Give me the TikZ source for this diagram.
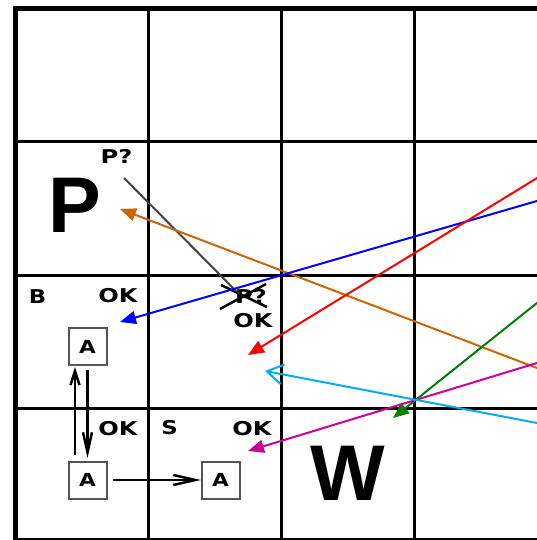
\documentclass[tikz,border=0pt]{standalone}
\usepackage{fontspec}
\usetikzlibrary{arrows.meta}
\newfontfamily\dvs{DejaVu Sans}
\newfontfamily\lib{Liberation Sans}
\definecolor{arrorange}{RGB}{204,102,0}
\definecolor{arrblue}{RGB}{0,0,255}
\definecolor{arrred}{RGB}{255,0,0}
\definecolor{arrgreen}{RGB}{0,128,0}
\definecolor{arrmag}{RGB}{204,0,153}
\definecolor{arrcyan}{RGB}{0,174,239}
\definecolor{boxgray}{RGB}{85,85,85}
\definecolor{linegray}{RGB}{68,68,68}
\begin{document}
\begin{tikzpicture}[x=1pt,y=-1pt,
  gridline/.style={line width=3pt,black},
  outerline/.style={line width=5pt,black},
  lbl/.style={inner sep=0pt,anchor=base,font=\dvs\bfseries\fontsize{19}{19}\selectfont},
  big/.style={inner sep=0pt,anchor=base,font=\lib\bfseries\fontsize{79}{79}\selectfont},
  abox/.style={draw=boxgray,line width=2pt,minimum width=38pt,minimum height=37pt,inner sep=0pt,font=\dvs\bfseries\fontsize{18}{18}\selectfont},
  blk/.style={line width=2.5pt,black},
  colarrow/.style={line width=2pt,-{Triangle[length=16pt,width=13pt]}},
  crossline/.style={line width=2.5pt,black}
]
\useasboundingbox (0,0) rectangle (537,540);
\clip (0,0) rectangle (537,540);
\fill[white] (0,0) rectangle (537,540);

% grid
\foreach \x in {148,281,414} \draw[gridline] (\x,9) -- (\x,545);
\foreach \y in {142,275,408} \draw[gridline] (15,\y) -- (545,\y);
\draw[outerline] (15,545) -- (15,9) -- (545,9);
\draw[outerline] (15,540) -- (545,540);

% texts
\node[big] (P) at (75,232) {P};
\node[big] (W) at (348,500) {W};
\node[lbl] (pq) at (116.5,164) {\scalebox{1.27}[1]{P?}};
\node[lbl] (B) at (37.5,303) {\scalebox{1.2}[1]{B}};
\node[lbl] (ok1) at (118,302) {\scalebox{1.27}[1]{OK}};
\node[lbl] (pq2) at (251,303) {\scalebox{1.27}[1]{P?}};
\node[lbl] (ok2) at (253,327) {\scalebox{1.27}[1]{OK}};
\node[lbl] (ok3) at (118,435) {\scalebox{1.27}[1]{OK}};
\node[lbl] (S) at (169.5,434) {\scalebox{1.2}[1]{S}};
\node[lbl] (ok4) at (252,435) {\scalebox{1.27}[1]{OK}};

% cross over P?
\coordinate (x1) at (221,285); \coordinate (x2) at (267,307);
\coordinate (x3) at (220,309); \coordinate (x4) at (266,284);
\draw[crossline] (x1) -- (x2);
\draw[crossline] (x3) -- (x4);

% gray line
\coordinate (g0) at (124,178); \coordinate (g1) at (236,291);
\draw[line width=2pt,linegray] (g0) -- (g1);

% agent boxes
\node[abox] (a1) at (87.5,346.5) {\scalebox{1.2}[1]{A}};
\node[abox] (a2) at (87.5,480) {\scalebox{1.2}[1]{A}};
\node[abox] (a3) at (220.5,480) {\scalebox{1.2}[1]{A}};

\coordinate (u0) at (75,455); \coordinate (u1) at (75,367);
\draw[blk,-{Straight Barb[length=14pt,width=9pt]}] (u0) -- (u1);
\coordinate (d0) at (87.5,370); \coordinate (d1) at (87.5,458);
\draw[blk,-{Straight Barb[length=20pt,width=9pt]}] (d0) -- (d1);
\coordinate (h0) at (113,480); \coordinate (h1) at (201,480);
\draw[blk,-{Straight Barb[length=22pt,width=10pt]}] (h0) -- (h1);

% coloured arrows from the right
\coordinate (os) at (560,376.8); \coordinate (ot) at (120,209);
\draw[colarrow,arrorange] (os) -- (ot);
\coordinate (bs) at (560,194.3); \coordinate (bt) at (120,322);
\draw[colarrow,arrblue] (bs) -- (bt);
\coordinate (rs) at (560,164); \coordinate (rt) at (248,355);
\draw[colarrow,arrred] (rs) -- (rt);
\coordinate (gs) at (560,284.6); \coordinate (gt) at (393,418);
\draw[colarrow,arrgreen] (gs) -- (gt);
\coordinate (ms) at (560,356); \coordinate (mt) at (248,451);
\draw[colarrow,arrmag] (ms) -- (mt);
\coordinate (cs) at (560,427.4); \coordinate (ct) at (265,371);
\draw[line width=2pt,arrcyan,-{Straight Barb[length=16pt,width=20pt]}] (cs) -- (ct);
\end{tikzpicture}
\end{document}
